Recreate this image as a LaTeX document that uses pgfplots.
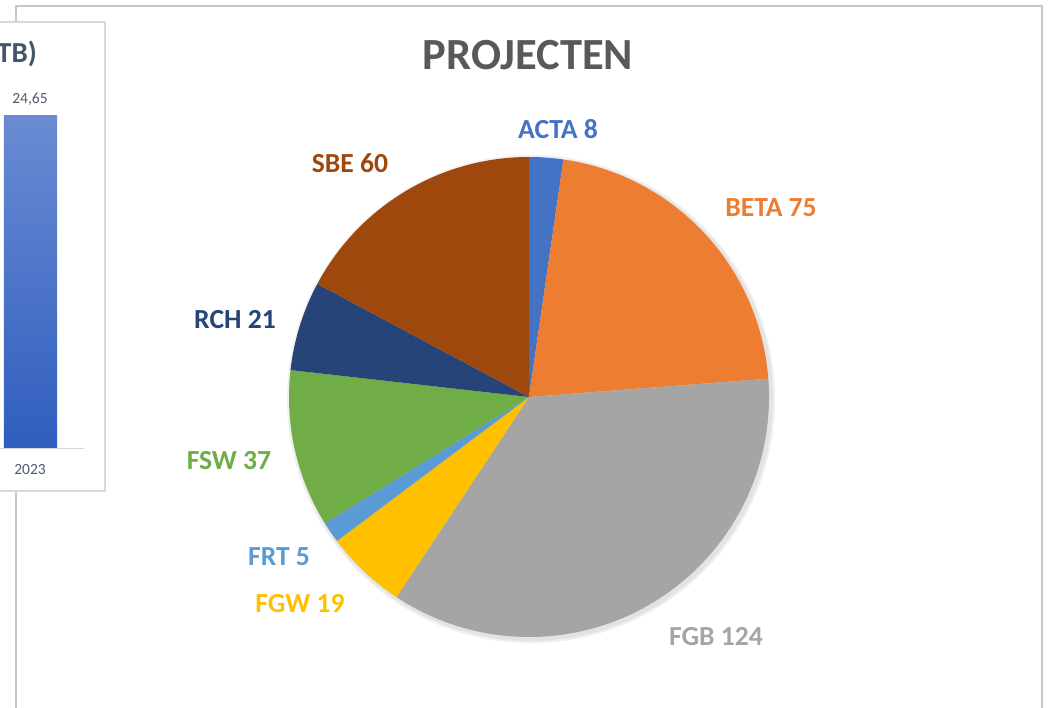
\documentclass[border=0pt]{standalone}
\usepackage{pgfplots}
\pgfplotsset{compat=1.18}
\usepackage{fontspec}
\setmainfont{Carlito}
\definecolor{acta}{HTML}{4472C4}
\definecolor{beta}{HTML}{ED7D31}
\definecolor{fgb}{HTML}{A5A5A5}
\definecolor{fgw}{HTML}{FFC000}
\definecolor{frt}{HTML}{5B9BD5}
\definecolor{fsw}{HTML}{70AD47}
\definecolor{rch}{HTML}{264478}
\definecolor{sbe}{HTML}{9E480E}
\definecolor{titlegray}{HTML}{595959}
\definecolor{slate}{HTML}{44546A}
\definecolor{smallgray}{HTML}{4F5A6B}
\definecolor{bartop}{HTML}{6A8BD3}
\definecolor{barbot}{HTML}{2F5EBE}
\newcommand\slice[3]{%
  \fill[#3] (axis cs:0,0) -- (axis cs:{cos(90-360/\total*#1)},{sin(90-360/\total*#1)})
    arc[start angle={90-360/\total*#1}, end angle={90-360/\total*#2}, radius=240pt] -- cycle;}
\begin{document}
\begin{tikzpicture}
\useasboundingbox (0pt,0pt) rectangle (1051pt,-707pt);
% values of the pie (clockwise from the top)
\pgfmathsetmacro\vACTA{8}
\pgfmathsetmacro\vBETA{75}
\pgfmathsetmacro\vFGB{124}
\pgfmathsetmacro\vFGW{19}
\pgfmathsetmacro\vFRT{5}
\pgfmathsetmacro\vFSW{37}
\pgfmathsetmacro\vRCH{21}
\pgfmathsetmacro\vSBE{60}
\pgfmathsetmacro\cA{\vACTA}
\pgfmathsetmacro\cB{\cA+\vBETA}
\pgfmathsetmacro\cC{\cB+\vFGB}
\pgfmathsetmacro\cD{\cC+\vFGW}
\pgfmathsetmacro\cE{\cD+\vFRT}
\pgfmathsetmacro\cF{\cE+\vFSW}
\pgfmathsetmacro\cG{\cF+\vRCH}
\pgfmathsetmacro\total{\cG+\vSBE}
% outer frame of the main chart
\fill[white] (16pt,-6pt) rectangle (1042pt,-720pt);
\draw[color=black!22, line width=2pt] (16pt,-720pt) -- (16pt,-6pt) -- (1042pt,-6pt) -- (1042pt,-720pt);
% the partly hidden chart on the left
\draw[color=black!15, line width=1.5pt, fill=white] (-20pt,-22pt) rectangle (105pt,-491pt);
\begin{axis}[at={(4pt,-448pt)}, anchor=origin, scale only axis,
  width=53pt, height=333pt, xmin=0, xmax=1, ymin=0, ymax=24.65,
  hide axis, clip=false]
\addplot[ybar, bar width=53pt, draw=none, bar shift=0pt,
  top color=bartop, bottom color=barbot]
  coordinates {(0.5,24.65)};
\end{axis}
\draw[color=black!15, line width=1pt] (-5pt,-448pt) -- (84pt,-448pt);
\node[anchor=base east, text=slate, font=\bfseries\fontsize{29}{31}\selectfont, inner sep=0pt] at (37pt,-62pt) {TB)};
\node[text=smallgray, font=\fontsize{15.5}{17}\selectfont, inner sep=0pt] at (30pt,-99pt) {24,65};
\node[text=smallgray, font=\fontsize{15.5}{17}\selectfont, inner sep=0pt] at (30pt,-470pt) {2023};
% the pie
\fill[black, opacity=0.06] (531pt,-399pt) circle (244pt);
\fill[black, opacity=0.05] (531pt,-399pt) circle (242pt);
\begin{axis}[at={(529pt,-397pt)}, anchor=center, scale only axis,
  width=480pt, height=480pt, xmin=-1, xmax=1, ymin=-1, ymax=1,
  hide axis, clip=false]
\slice{0}{\cA}{acta}
\slice{\cA}{\cB}{beta}
\slice{\cB}{\cC}{fgb}
\slice{\cC}{\cD}{fgw}
\slice{\cD}{\cE}{frt}
\slice{\cE}{\cF}{fsw}
\slice{\cF}{\cG}{rch}
\slice{\cG}{\total}{sbe}
\end{axis}
% title and labels
\node[text=titlegray, font=\bfseries\fontsize{44.5}{48}\selectfont, inner sep=0pt] at (528pt,-55.5pt) {PROJECTEN};
\tikzset{lab/.style={inner sep=0pt, font=\bfseries\fontsize{27.6}{30}\selectfont}}
\node[lab, text=acta] at (558pt,-129.5pt) {ACTA 8};
\node[lab, text=beta] at (771pt,-208pt) {BETA 75};
\node[lab, text=fgb]  at (716pt,-637pt) {FGB 124};
\node[lab, text=fgw]  at (300pt,-604pt) {FGW 19};
\node[lab, text=frt]  at (279pt,-556.5pt) {FRT 5};
\node[lab, text=fsw]  at (229pt,-461pt) {FSW 37};
\node[lab, text=rch]  at (235pt,-320pt) {RCH 21};
\node[lab, text=sbe]  at (350pt,-163.5pt) {SBE 60};
\end{tikzpicture}
\end{document}
